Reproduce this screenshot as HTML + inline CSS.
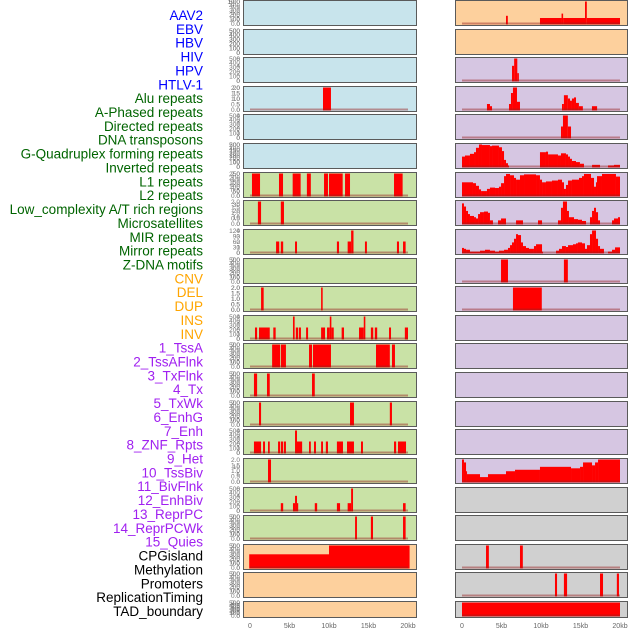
<!DOCTYPE html>
<html><head><meta charset="utf-8"><style>
body{margin:0;background:#fff;width:630px;height:630px;overflow:hidden}
svg{display:block}
</style></head><body>
<svg id="c" width="630" height="630" font-family="Liberation Sans, sans-serif"></svg>
<script>
const labels=["AAV2","EBV","HBV","HIV","HPV","HTLV-1","Alu repeats","A-Phased repeats","Directed repeats","DNA transposons","G-Quadruplex forming repeats","Inverted repeats","L1 repeats","L2 repeats","Low_complexity A/T rich regions","Microsatellites","MIR repeats","Mirror repeats","Z-DNA motifs","CNV","DEL","DUP","INS","INV","1_TssA","2_TssAFlnk","3_TxFlnk","4_Tx","5_TxWk","6_EnhG","7_Enh","8_ZNF_Rpts","9_Het","10_TssBiv","11_BivFlnk","12_EnhBiv","13_ReprPC","14_ReprPCWk","15_Quies","CPGisland","Methylation","Promoters","ReplicationTiming","TAD_boundary"];
const labelColors=["#0000ff","#006400","#ffa500","#a020f0","#000000"];
const labelGroup=[0,0,0,0,0,0,1,1,1,1,1,1,1,1,1,1,1,1,1,2,2,2,2,2,3,3,3,3,3,3,3,3,3,3,3,3,3,3,3,4,4,4,4,4];
const xTicks=[0,5,10,15,20];
const xTickLabels=["0","5kb","10kb","15kb","20kb"];
const leftBg=["b","b","b","b","b","b","g","g","g","g","g","g","g","g","g","g","g","g","g","o","o","o"];
const rightBg=["o","o","l","l","l","l","l","l","l","l","l","l","l","l","l","l","l","y","y","y","y","y"];
const leftYmax=[0,0,0,2,0,0,2,2,4,0,2,4,2,2,2,4,2,6,2,500,0,0];
const rightYmax=[10,0,6,20,4,200,250,35,120,2,2,0,0,0,0,0,15,0,0,2,2,2];
const leftTicks=[null,null,null,[0,0.5,1,1.5,2],null,null,[0,0.5,1,1.5,2],[0,0.5,1,1.5,2],[0,1,2,3,4],null,[0,0.5,1,1.5,2],[0,1,2,3,4],[0,0.5,1,1.5,2],[0,0.5,1,1.5,2],[0,0.5,1,1.5,2],[0,1,2,3,4],[0,0.5,1,1.5,2],[0,2,4,6],[0,0.5,1,1.5,2],[0,100,200,300,400,500],null,null];
const rightTicks=[[0,2.5,5,7.5,10],null,[0,2,4,6],[0,5,10,15,20],[0,1,2,3,4],[0,50,100,150,200],[0,50,100,150,200,250],[0,10,20,30],[0,30,60,90,120],[0,0.5,1,1.5,2],[0,0.5,1,1.5,2],null,null,null,null,null,[0,5,10],null,null,[0,0.5,1,1.5,2],[0,0.5,1,1.5,2],[0,0.5,1,1.5,2]];
const leftSegs=[[],[],[],[[9.24,10.25,2]],[],[],
[[0.25,1.27,2],[3.67,4.18,2],[5.4,6.41,2],[7.2,7.7,2],[9.37,9.87,2],[10,11.73,2],[12.03,12.66,2],[18.23,19.32,2]],
[[1.0,1.4,2],[3.9,4.3,2]],
[[3.3,3.7,2],[3.9,4.2,2],[5.7,5.95,2],[11.0,11.27,2],[12.36,12.8,2],[12.8,13.1,4],[14.55,14.8,2],[18.6,18.86,2],[19.37,19.7,2]],
[],
[[1.4,1.73,2],[9.0,9.2,2]],
[[0.63,0.9,2],[1.14,2.5,2],[2.95,3.25,2],[5.44,5.65,4],[5.8,6.1,2],[6.2,6.45,2],[7.1,7.35,2],[9.0,9.5,2],[9.75,10.1,2],[10.1,10.3,4],[10.3,10.6,2],[11.6,11.9,2],[13.8,14.4,2],[14.4,14.6,4],[15.3,15.6,2],[15.8,16.1,2],[17.6,17.85,2],[19.6,20,2]],
[[2.8,3.8,2],[3.9,4.55,2],[7.47,7.85,2],[7.97,10.25,2],[15.95,17.7,2],[17.97,18.35,2]],
[[0.5,0.9,2],[2.15,2.5,2],[7.85,8.2,2]],
[[1.14,1.4,2],[12.66,13.16,2],[17.7,17.97,2]],
[[0.5,1.4,2],[1.65,1.9,2],[2.28,2.5,2],[3.55,3.8,2],[3.9,4.2,2],[4.3,4.55,2],[5.7,5.95,4],[5.95,6.6,2],[7.47,7.7,2],[8.1,8.35,2],[9.0,9.24,2],[9.6,9.87,2],[11.0,11.77,2],[12.28,13.16,2],[14.05,14.3,2],[18.23,18.5,2],[18.73,19.75,2]],
[[2.28,2.66,2]],
[[3.9,4.2,2],[5.44,5.7,2],[5.7,5.95,4],[5.95,6.1,2],[8.2,8.5,2],[11.0,11.4,2],[12.36,12.8,2],[12.8,13.04,6],[19.37,19.7,2]],
[[13.3,13.54,2],[15.3,15.57,2],[19.37,19.7,2]],
[[-0.1,10.0,300],[10.0,20.2,500]],
[],[]];
const rightSegs=[
[[5.57,5.8,3.5],[9.87,12.6,2.5],[12.6,12.8,4.5],[12.8,15.57,2.5],[15.57,15.8,10],[15.8,20,2.5]],
[],
[[6.33,6.6,4],[6.6,7.0,6],[7.0,7.2,2]],
[[3.16,3.54,5],[3.54,3.8,3],[5.95,6.2,5],[6.2,6.45,15],[6.45,6.96,20],[6.96,7.34,7],[12.66,12.9,5],[12.9,13.4,13],[13.4,13.67,10],[13.67,13.92,8],[13.92,14.18,10],[14.18,14.43,11],[14.43,14.8,6],[14.8,15.3,3],[16.45,17.1,3]],
[[12.53,12.78,2],[12.78,13.4,4],[13.4,13.8,2]],
[[0,0.38,90],[0.38,1.01,100],[1.01,1.52,115],[1.52,1.77,130],[1.77,2.15,170],[2.15,2.53,200],[2.53,3.54,195],[3.54,3.8,185],[3.8,4.68,190],[4.68,5.06,175],[5.06,5.32,140],[5.32,5.57,60],[5.57,5.82,30],[5.82,5.95,10],[9.87,10.63,130],[10.63,10.89,135],[10.89,12.15,110],[12.15,12.53,100],[12.53,13.16,120],[13.16,13.42,110],[13.42,13.67,90],[13.67,13.92,70],[13.92,14.43,50],[14.43,14.93,40],[14.93,15.44,25],[16.46,17.47,15],[18.48,19.24,10],[19.24,20,15]],
[[0,1.39,150],[1.39,1.77,140],[1.77,2.15,110],[2.15,2.41,70],[2.41,3.16,50],[3.16,3.54,75],[3.54,4.18,90],[4.18,4.68,85],[4.68,4.94,100],[4.94,5.32,140],[5.32,5.57,220],[5.57,6.08,245],[6.08,6.58,230],[6.58,6.84,200],[6.84,7.34,180],[7.34,7.85,230],[7.85,9.37,240],[9.37,9.87,230],[9.87,10.13,180],[10.13,10.63,150],[10.63,11.39,160],[11.39,12.15,170],[12.15,12.66,180],[12.66,12.91,150],[12.91,13.16,75],[13.16,13.42,120],[13.42,13.92,170],[13.92,14.81,180],[14.81,15.19,200],[15.19,15.44,220],[15.44,16.33,245],[16.33,16.71,200],[16.71,16.96,100],[16.96,17.09,150],[17.09,17.72,220],[17.72,19.49,245],[19.49,20,215]],
[[0,0.25,32],[0.25,0.51,27],[0.51,0.76,20],[0.76,1.01,15],[1.01,1.52,12],[1.52,1.77,10],[1.77,2.03,8],[2.03,2.28,15],[2.28,2.78,18],[2.78,3.29,19],[3.29,3.54,17],[3.54,3.92,5],[4.56,4.94,5],[4.94,5.57,8],[6.84,7.72,5],[9.62,10.13,5],[12.15,12.53,5],[12.53,12.78,25],[12.78,13.29,35],[13.29,13.54,20],[13.54,14.18,10],[14.18,14.68,7],[14.68,15.19,6],[15.19,15.7,4],[16.2,16.46,10],[16.46,16.71,20],[16.71,16.96,25],[16.96,17.22,18],[17.22,17.47,5],[18.99,19.24,5],[19.24,19.75,8],[19.75,20,10]],
[[0,0.25,25],[0.25,0.51,20],[0.51,1.01,15],[1.01,2.28,5],[2.28,2.91,10],[2.91,3.54,15],[3.54,4.18,10],[4.18,4.68,5],[4.68,5.32,10],[5.32,5.82,15],[5.82,6.08,25],[6.08,6.33,40],[6.33,6.58,55],[6.58,6.84,75],[6.84,7.09,100],[7.09,7.47,95],[7.47,7.72,55],[7.72,8.1,35],[8.1,8.48,25],[8.48,9.11,20],[9.11,9.37,35],[9.37,10.13,45],[10.13,10.25,5],[11.9,12.28,10],[12.28,12.66,20],[12.66,13.16,35],[13.16,13.42,30],[13.42,14.05,40],[14.05,14.43,45],[14.43,14.68,50],[14.68,15.19,55],[15.19,15.57,50],[15.57,15.82,20],[15.82,16.2,40],[16.2,16.46,100],[16.46,16.96,120],[16.96,17.22,75],[17.22,17.47,35],[17.47,17.97,20],[18.48,18.99,5],[18.99,19.37,15],[19.37,20,28]],
[[4.94,5.82,2],[12.9,13.4,2]],
[[6.45,10.1,2]],
[],[],[],[],[],
[[0,0.25,15],[0.25,0.51,13],[0.51,0.63,7],[0.63,2.28,5],[2.28,3.29,3],[3.29,5.57,5],[5.57,6.71,7],[6.71,9.87,8],[9.87,13.8,10],[13.8,14.94,9],[14.94,15.32,10],[15.32,16.46,13],[16.46,16.84,11],[16.84,17.22,13],[17.22,20,15]],
[],[],
[[3.04,3.4,2],[7.34,7.7,2]],
[[11.77,12.03,2],[12.9,13.3,2],[17.47,17.85,2],[19.6,19.87,2]],
[[0,20,2]]];

const NS="http://www.w3.org/2000/svg";
const svg=document.getElementById('c');
function mk(t,a,p){const e=document.createElementNS(NS,t);for(const k in a)e.setAttribute(k,a[k]);(p||svg).appendChild(e);return e;}
const bgCol={b:"#c8e4ec",g:"#c9e2a6",o:"#fdd09d",l:"#d6c6e2",y:"#d0d0d0"};
const rowTop=i=>Math.round(i*28.62);
const rowH=i=>i===21?16:25;
const cols=[{x0:243,x1:416,d0:250,d1:408,bg:leftBg,ym:leftYmax,tk:leftTicks,sg:leftSegs,name:'left'},
            {x0:455,x1:627,d0:462,d1:620,bg:rightBg,ym:rightYmax,tk:rightTicks,sg:rightSegs,name:'right'}];

labels.forEach((t,i)=>{
  const e=mk('text',{x:203,y:15+i*13.86+5,'text-anchor':'end','font-size':13.5,fill:labelColors[labelGroup[i]]});
  e.textContent=t;
  
  
});

cols.forEach(c=>{
  const xs=v=>c.d0+(v/20)*(c.d1-c.d0);
  for(let i=0;i<22;i++){
    const top=rowTop(i),h=rowH(i),bot=top+h;
    const g=mk('g',{});
    
    
    mk('rect',{x:c.x0+0.5,y:top+0.5,width:c.x1-c.x0,height:h,fill:bgCol[c.bg[i]],stroke:'#5a5a5a','stroke-width':1},g);
    let ymax=c.ym[i]; let ticks=c.tk[i];
    if(!ymax){ymax=500;ticks=[0,100,200,300,400,500];}
    const ys=v=>bot-1.5-(v/ymax)*(h-3);
    ticks.forEach(tv=>{
      const e=mk('text',{x:240,y:ys(tv)+2.3,'text-anchor':'end','font-size':6.5,fill:'#777'},g);
      e.textContent=(ymax<=2&&c.ym[i])?tv.toFixed(1):(ymax===10?tv.toFixed(1):String(tv));
      
      
    });
    const segs=c.sg[i];
    if(segs.length){
      segs.forEach(s=>{
        const x1=xs(s[0]),x2=xs(s[1]);
        const r=mk('rect',{x:x1,y:ys(s[2]),width:Math.max(1,x2-x1),height:bot-ys(s[2])-0.5,fill:'#ff0000'},g);
        
        
      });
      const bl=mk('rect',{x:xs(0),y:bot-2.5,width:xs(20)-xs(0),height:2,fill:'rgba(150,30,30,0.45)'},g);
      
      
    }
  }
  xTicks.forEach((v,k)=>{
    const e=mk('text',{x:xs(v),y:628,'text-anchor':'middle','font-size':7,fill:'#666'});
    e.textContent=xTickLabels[k];
    
    
  });
});
</script>
</body></html>
